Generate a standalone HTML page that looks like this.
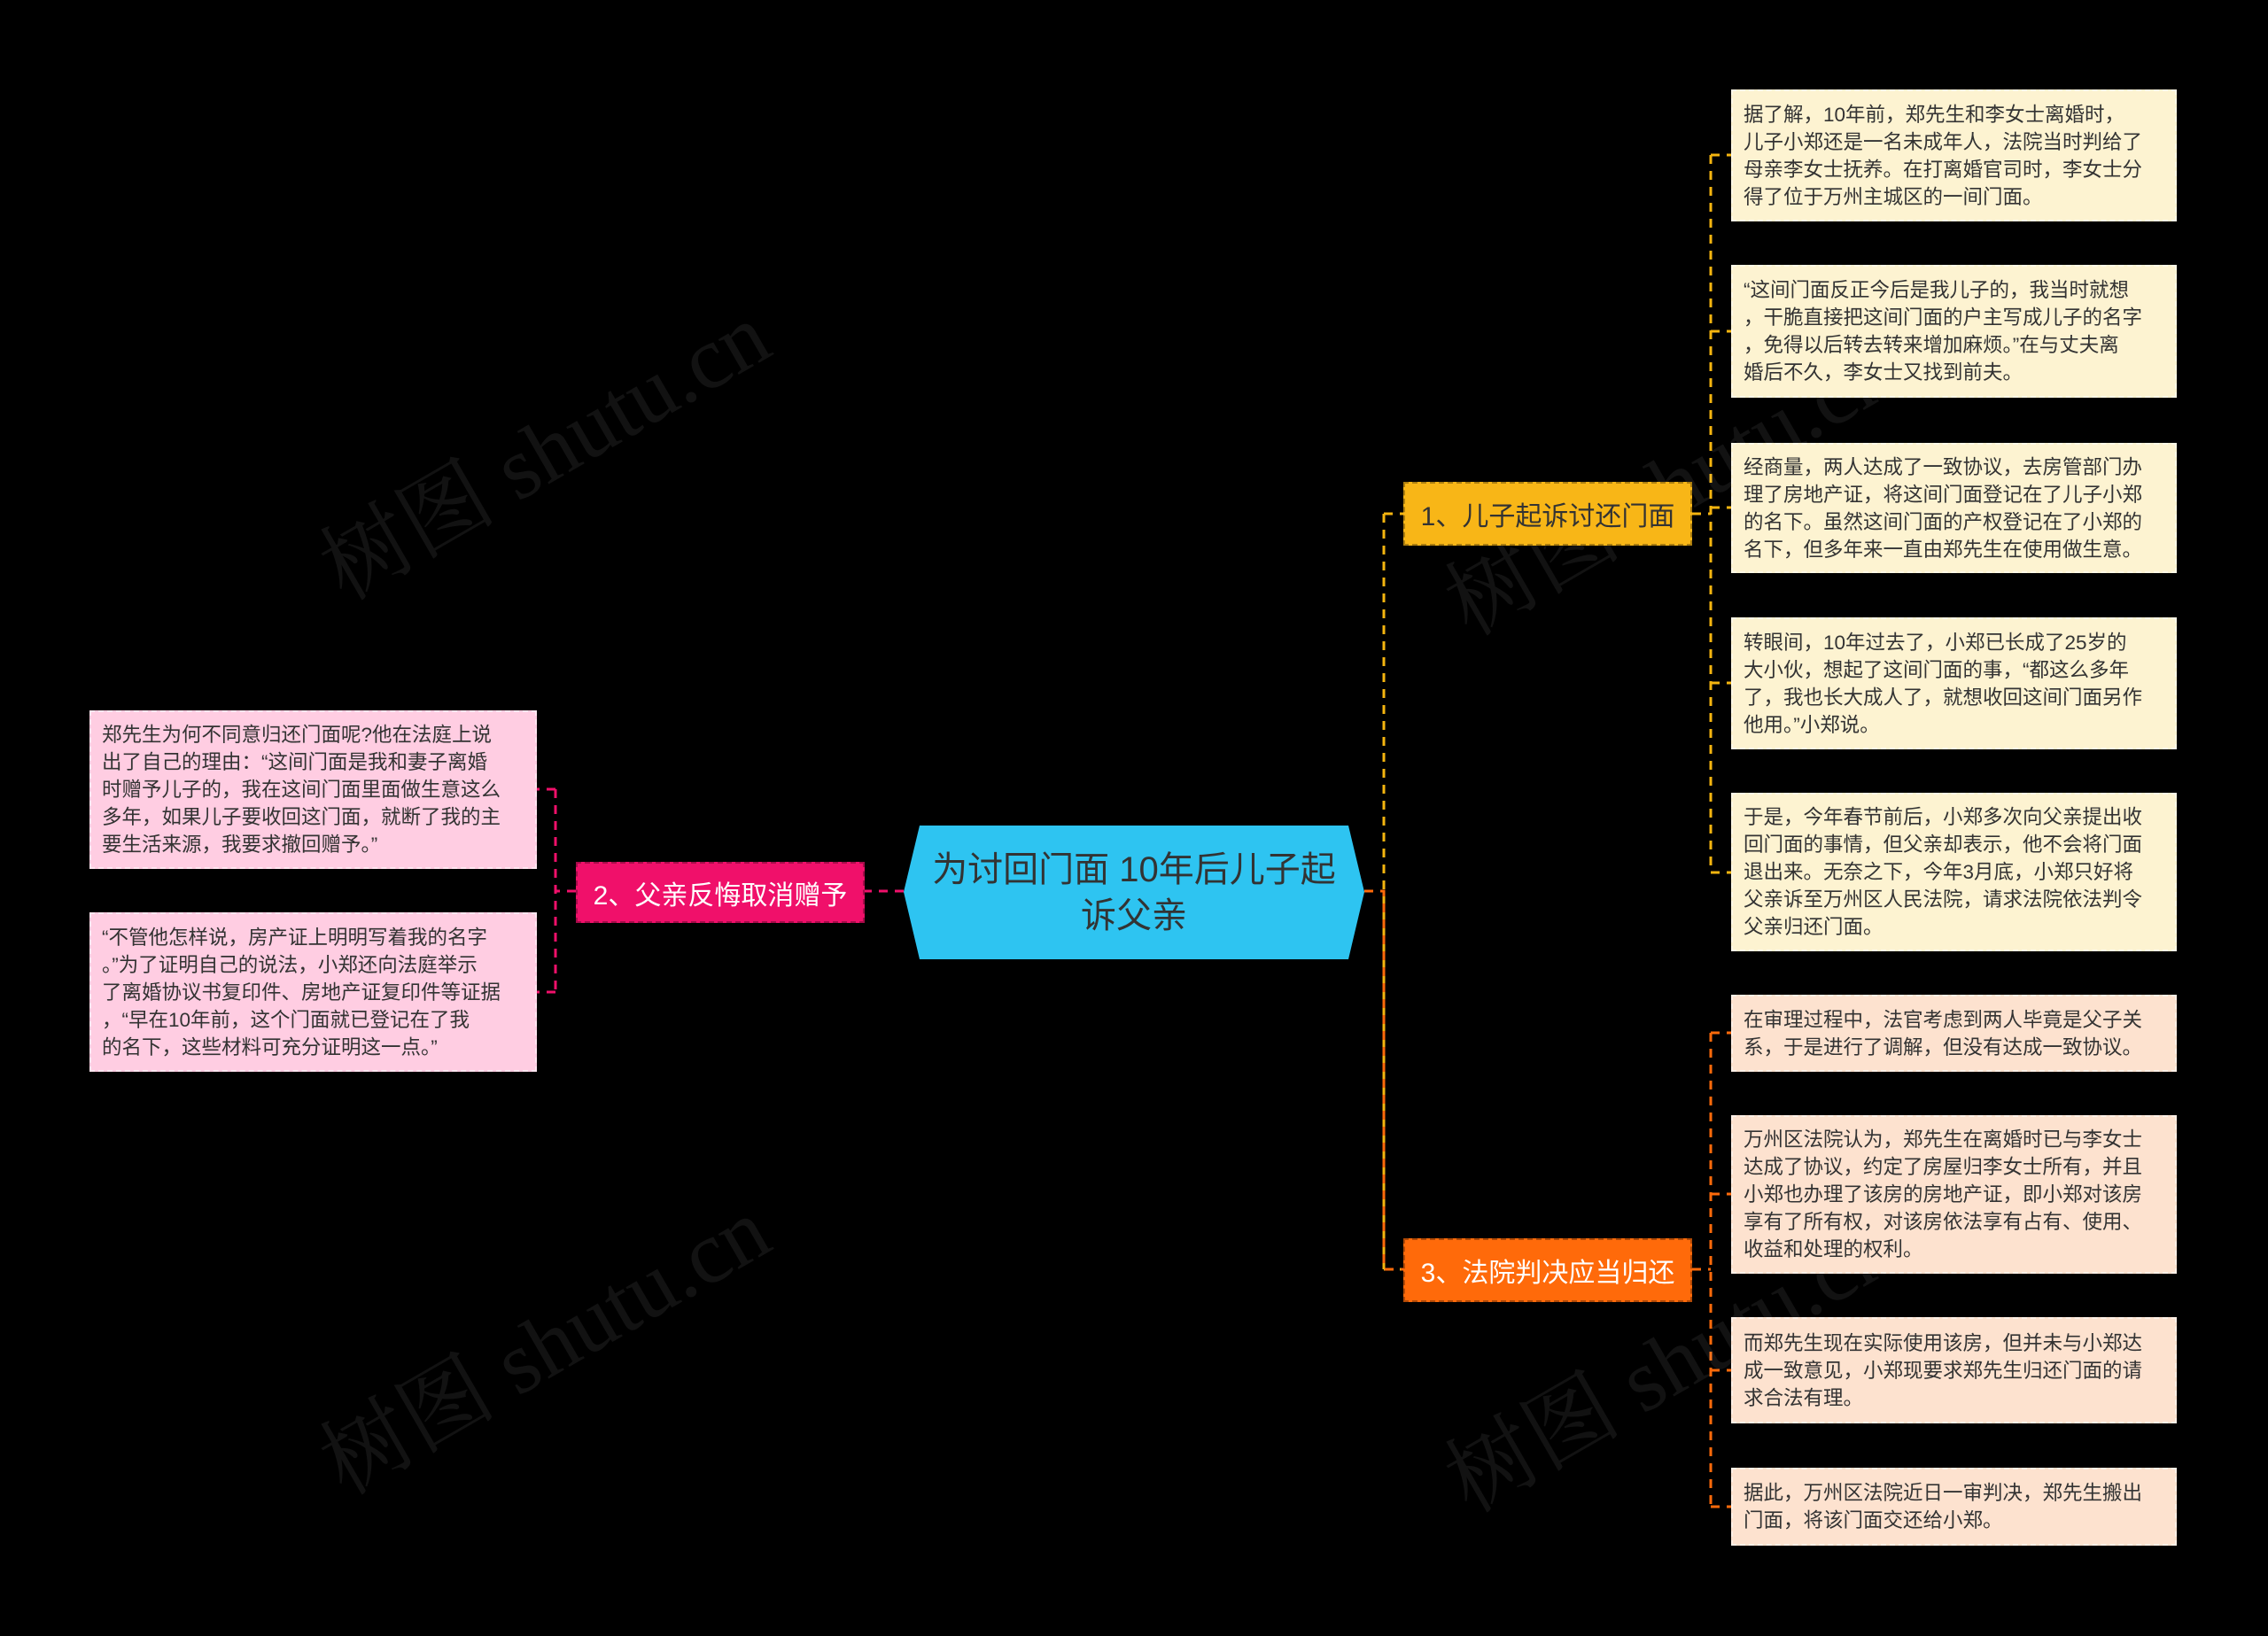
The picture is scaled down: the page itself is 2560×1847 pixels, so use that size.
<!DOCTYPE html>
<html><head><meta charset="utf-8"><style>
body{margin:0;width:2560px;height:1847px;background:#000;position:relative;overflow:hidden;font-family:"Liberation Sans","Noto Sans CJK SC",sans-serif}
.b{position:absolute;box-sizing:border-box;font-size:22.5px;line-height:31px;color:#333;padding:0 4px 0 12px;display:flex;align-items:center;border:2px dashed rgba(255,255,255,0.5);white-space:nowrap}
.y{background:#fdf3d1}.o{background:#fde2cf}.p{background:#ffcde2}
.n{position:absolute;box-sizing:border-box;font-size:30px;display:flex;align-items:center;justify-content:center;border:2px dashed rgba(0,0,0,0.3)}
.w{position:absolute;font-size:100px;color:rgba(255,255,255,0.07);transform:rotate(-30deg);white-space:nowrap;font-family:"Liberation Serif","Noto Serif CJK SC",serif}
</style></head><body>
<svg width="2560" height="1847" style="position:absolute;left:0;top:0">
<g fill="none" stroke-width="3" stroke-dasharray="10,8">
<path d="M1540 1006 H1562 M1562 580 V1433 M1562 580 H1584 M1562 1433 H1584" stroke="#f5b50f"/>
<path d="M1540 1006 H1562 V1433 H1584" stroke="#ff6a0a"/>
<path d="M1910 580 H1931 M1931 175 V985 M1931 175 H1954 M1931 374 H1954 M1931 573 H1954 M1931 771 H1954 M1931 985 H1954" stroke="#f5b50f"/>
<path d="M1910 1433 H1931 M1931 1166 V1701 M1931 1166 H1954 M1931 1348 H1954 M1931 1547 H1954 M1931 1701 H1954" stroke="#ff6a0a"/>
<path d="M1020 1006 H976 M650 1006 H627 M627 891 V1120 M627 891 H606 M627 1120 H606" stroke="#f0106a"/>
</g></svg>
<div class="w" style="left:330px;top:430px">树图 shutu.cn</div>
<div class="w" style="left:330px;top:1440px">树图 shutu.cn</div>
<div class="w" style="left:1600px;top:470px">树图 shutu.cn</div>
<div class="w" style="left:1600px;top:1460px">树图 shutu.cn</div>
<svg width="520" height="151" style="position:absolute;left:1020px;top:932px"><polygon points="18,0 502,0 520,75 502,151 18,151 0,75" fill="#2ec4f1"/></svg>
<div style="position:absolute;left:1020px;top:940px;width:520px;height:135px;display:flex;align-items:center;justify-content:center;text-align:center;font-size:40px;line-height:52px;color:#333;white-space:nowrap">为讨回门面 10年后儿子起<br>诉父亲</div>
<div class="n" style="left:650px;top:973px;width:326px;height:69px;background:#f0106a;color:#fff">2、父亲反悔取消赠予</div>
<div class="n" style="left:1584px;top:544px;width:326px;height:72px;background:#f8b617;color:#333">1、儿子起诉讨还门面</div>
<div class="n" style="left:1584px;top:1398px;width:326px;height:72px;background:#ff6a0a;color:#fff">3、法院判决应当归还</div>
<div class="b p" style="left:101px;top:802px;width:505px;height:179px"><div>郑先生为何不同意归还门面呢?他在法庭上说<br>出了自己的理由：“这间门面是我和妻子离婚<br>时赠予儿子的，我在这间门面里面做生意这么<br>多年，如果儿子要收回这门面，就断了我的主<br>要生活来源，我要求撤回赠予。”</div></div>
<div class="b p" style="left:101px;top:1030px;width:505px;height:180px"><div>“不管他怎样说，房产证上明明写着我的名字<br>。”为了证明自己的说法，小郑还向法庭举示<br>了离婚协议书复印件、房地产证复印件等证据<br>，“早在10年前，这个门面就已登记在了我<br>的名下，这些材料可充分证明这一点。”</div></div>
<div class="b y" style="left:1954px;top:101px;width:503px;height:149px"><div>据了解，10年前，郑先生和李女士离婚时，<br>儿子小郑还是一名未成年人，法院当时判给了<br>母亲李女士抚养。在打离婚官司时，李女士分<br>得了位于万州主城区的一间门面。</div></div>
<div class="b y" style="left:1954px;top:299px;width:503px;height:150px"><div>“这间门面反正今后是我儿子的，我当时就想<br>，干脆直接把这间门面的户主写成儿子的名字<br>，免得以后转去转来增加麻烦。”在与丈夫离<br>婚后不久，李女士又找到前夫。</div></div>
<div class="b y" style="left:1954px;top:500px;width:503px;height:147px"><div>经商量，两人达成了一致协议，去房管部门办<br>理了房地产证，将这间门面登记在了儿子小郑<br>的名下。虽然这间门面的产权登记在了小郑的<br>名下，但多年来一直由郑先生在使用做生意。</div></div>
<div class="b y" style="left:1954px;top:697px;width:503px;height:149px"><div>转眼间，10年过去了，小郑已长成了25岁的<br>大小伙，想起了这间门面的事，“都这么多年<br>了，我也长大成人了，就想收回这间门面另作<br>他用。”小郑说。</div></div>
<div class="b y" style="left:1954px;top:895px;width:503px;height:179px"><div>于是，今年春节前后，小郑多次向父亲提出收<br>回门面的事情，但父亲却表示，他不会将门面<br>退出来。无奈之下，今年3月底，小郑只好将<br>父亲诉至万州区人民法院，请求法院依法判令<br>父亲归还门面。</div></div>
<div class="b o" style="left:1954px;top:1123px;width:503px;height:87px"><div>在审理过程中，法官考虑到两人毕竟是父子关<br>系，于是进行了调解，但没有达成一致协议。</div></div>
<div class="b o" style="left:1954px;top:1259px;width:503px;height:179px"><div>万州区法院认为，郑先生在离婚时已与李女士<br>达成了协议，约定了房屋归李女士所有，并且<br>小郑也办理了该房的房地产证，即小郑对该房<br>享有了所有权，对该房依法享有占有、使用、<br>收益和处理的权利。</div></div>
<div class="b o" style="left:1954px;top:1487px;width:503px;height:120px"><div>而郑先生现在实际使用该房，但并未与小郑达<br>成一致意见，小郑现要求郑先生归还门面的请<br>求合法有理。</div></div>
<div class="b o" style="left:1954px;top:1657px;width:503px;height:88px"><div>据此，万州区法院近日一审判决，郑先生搬出<br>门面，将该门面交还给小郑。</div></div>
</body></html>
